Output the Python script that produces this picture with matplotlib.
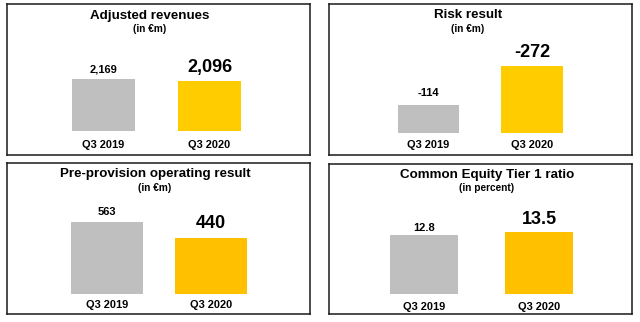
import matplotlib
matplotlib.use("Agg")
import matplotlib.pyplot as plt

plt.rcParams['font.family'] = ['Liberation Sans', 'DejaVu Sans']

categories = ["Q3 2019", "Q3 2020"]
titles = ["Adjusted revenues", "Risk result",
          "Pre-provision operating result", "Common Equity Tier 1 ratio"]
subtitles = ["(in €m)", "(in €m)", "(in €m)", "(in percent)"]
rev_values = [2169, 2096]
risk_values = [-114, -272]
ppor_values = [563, 440]
cet1_values = [12.8, 13.5]
rev_labels = ["2,169", "2,096"]
risk_labels = ["-114", "-272"]
ppor_labels = ["563", "440"]
cet1_labels = ["12.8", "13.5"]

W, H = 640, 322
fig = plt.figure(figsize=(W / 100, H / 100), dpi=100)

GRAY = "#BFBFBF"

# layout in pixels: box (l, t, r, b), bar centers, bar width, baseline y,
# px height of first bar, title center x, title y, subtitle y, colours, label gaps
panels = [
    dict(box=(7, 4, 310, 155), cx=(103.5, 209.5), bw=63, base=131, h0=52,
         tx=150, ty=15.5, sy=29.5, col="#FFCC00", xl=14, gaps=(7, 9),
         vals=rev_values, labs=rev_labels),
    dict(box=(329, 4, 632, 155), cx=(428.5, 532), bw=61.5, base=133, h0=28,
         tx=468, ty=15.5, sy=29.5, col="#FFCC00", xl=12, gaps=(9.5, 9.5),
         vals=risk_values, labs=risk_labels),
    dict(box=(7, 163, 310, 314), cx=(107, 211), bw=72, base=294, h0=72,
         tx=155, ty=174.5, sy=188, col="#FFC000", xl=11.5, gaps=(7, 9.5),
         vals=ppor_values, labs=ppor_labels),
    dict(box=(329, 164, 632, 314), cx=(424, 539), bw=68, base=294, h0=59,
         tx=487, ty=175, sy=188, col="#FFC000", xl=12.5, gaps=(4, 8),
         vals=cet1_values, labs=cet1_labels),
]

for i, p in enumerate(panels):
    l, t, r, b = p["box"]
    ax = fig.add_axes([l / W, 1 - b / H, (r - l) / W, (b - t) / H])
    vals = [abs(v) for v in p["vals"]]
    spacing = p["cx"][1] - p["cx"][0]
    ax.set_xlim(-(p["cx"][0] - l) / spacing, 1 + (r - p["cx"][1]) / spacing)
    scale = vals[0] / p["h0"]
    ax.set_ylim(-(b - p["base"]) * scale, (p["base"] - t) * scale)
    xs = list(range(len(categories)))
    ax.bar(xs, vals, width=p["bw"] / spacing, color=[GRAY, p["col"]], linewidth=0)
    for x, v, lab, big, gap in zip(xs, vals, p["labs"], [False, True], p["gaps"]):
        ax.annotate(lab, (x, v), xytext=(0, gap * 0.72), textcoords="offset points",
                    ha="center", va="baseline", fontweight="bold",
                    fontsize=13 if big else 8.0, color="black")
    for x, c in zip(xs, categories):
        ax.annotate(c, (x, 0), xytext=(0, -p["xl"] * 0.72), textcoords="offset points",
                    ha="center", va="center", fontweight="bold", fontsize=7.9)
    ax.set_xticks([])
    ax.set_yticks([])
    for s in ax.spines.values():
        s.set_linewidth(1.1)
        s.set_color("#1a1a1a")
    fig.text(p["tx"] / W, 1 - p["ty"] / H, titles[i], ha="center", va="center",
             fontweight="bold", fontsize=9.6)
    fig.text(p["tx"] / W, 1 - p["sy"] / H, subtitles[i], ha="center", va="center",
             fontweight="bold", fontsize=7.3)

fig.savefig("out.png", dpi=100, facecolor="white")
